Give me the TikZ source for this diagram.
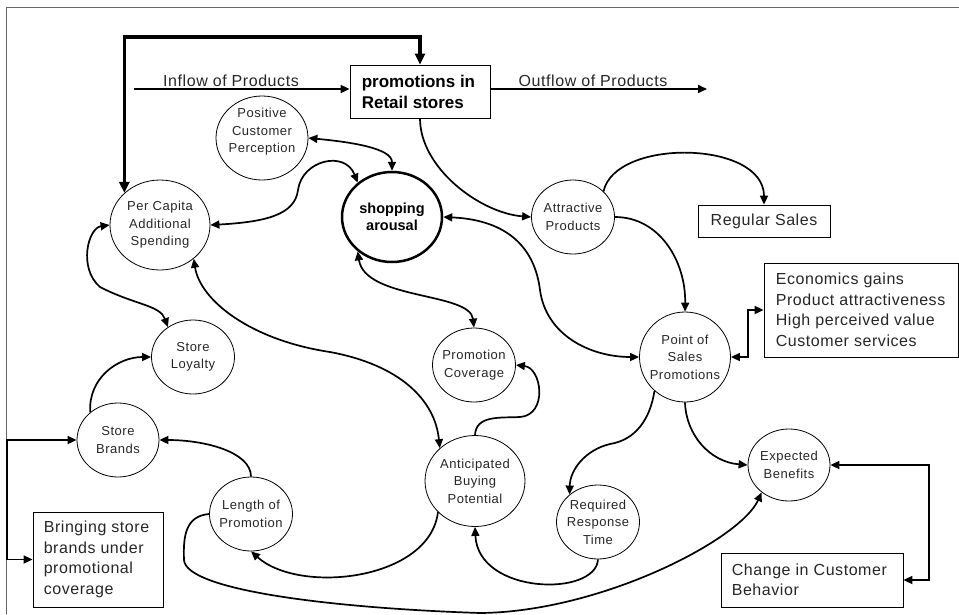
\documentclass[tikz,border=0pt]{standalone}
\usepackage{fontspec}
\setmainfont{Liberation Sans}
\newfontfamily\bubfont[LetterSpace=4]{Liberation Sans}
\newfontfamily\boxfont[LetterSpace=3.5]{Liberation Sans}
\usetikzlibrary{shapes.geometric,arrows.meta}

\begin{document}
\begin{tikzpicture}[x=1pt,y=-1pt,
  >={Triangle[length=9pt,width=8pt]},
  bub/.style={ellipse, draw, line width=0.8pt, inner sep=0pt},
  bubtxt/.style={font=\bubfont\fontsize{13}{17.5}\selectfont, align=center, text=black!85, inner sep=0pt},
  boldtxt/.style={font=\bfseries\fontsize{17}{21}\selectfont, align=left, inner sep=0pt},
  boxtxt/.style={font=\boxfont\fontsize{16}{20.5}\selectfont, align=left, text=black!85, inner sep=0pt},
  flowtxt/.style={font=\boxfont\fontsize{16}{20}\selectfont, text=black!85, inner sep=0pt},
  infobox/.style={draw, line width=0.8pt, inner sep=0pt},
  conn/.style={line width=1.7pt, ->},
  biconn/.style={line width=1.7pt, <->},
  mainloop/.style={line width=3.5pt, {Triangle[length=11pt,width=10pt]}-{Triangle[length=11pt,width=10pt]}},
]
\useasboundingbox (0,0) rectangle (959,614);

% outer frame
\draw[line width=0.8pt, black!60] (6,614) -- (6,7) -- (959,7);

% boxes
\node[infobox, minimum width=140pt, minimum height=53pt,
      label={[boldtxt, anchor=west, xshift=12pt]west:promotions in\\Retail stores}] (prom) at (420,91.5) {};
\node[infobox, minimum width=132pt, minimum height=32pt,
      label={[boxtxt]center:Regular Sales}] (rs) at (764,221) {};
\node[infobox, minimum width=194pt, minimum height=94pt,
      label={[boxtxt, anchor=west, xshift=12pt]west:Economics gains\\Product attractiveness\\High perceived value\\Customer services}] (econ) at (861,310) {};
\node[infobox, minimum width=130pt, minimum height=95pt,
      label={[boxtxt, anchor=west, xshift=11pt]west:Bringing store\\brands under\\promotional\\coverage}] (bb) at (98,559.5) {};
\node[infobox, minimum width=182pt, minimum height=54pt,
      label={[boxtxt, anchor=west, xshift=11pt]west:Change in Customer\\Behavior}] (chg) at (812,580) {};

% bubbles
\node[bub, minimum width=92pt, minimum height=84pt,
      label={[bubtxt, yshift=6pt]center:Positive\\Customer\\Perception}] (pcp) at (262,138) {};
\node[bub, minimum width=100pt, minimum height=90pt,
      label={[bubtxt]center:Per Capita\\Additional\\Spending}] (pc) at (160,225) {};
\node[bub, line width=2.5pt, minimum width=100pt, minimum height=90pt,
      label={[font=\bfseries\fontsize{14.5}{17}\selectfont, align=center, inner sep=0pt]center:shopping\\arousal}] (sa) at (392,217) {};
\node[bub, minimum width=83pt, minimum height=74pt,
      label={[bubtxt]center:Attractive\\Products}] (ap) at (573,217) {};
\node[bub, minimum width=91pt, minimum height=90pt,
      label={[bubtxt]center:Point of\\Sales\\Promotions}] (pos) at (685,357) {};
\node[bub, minimum width=83pt, minimum height=74pt,
      label={[bubtxt]center:Store\\Loyalty}] (sl) at (193,357) {};
\node[bub, minimum width=83pt, minimum height=74pt,
      label={[bubtxt]center:Promotion\\Coverage}] (pcv) at (474,365) {};
\node[bub, minimum width=82pt, minimum height=74pt,
      label={[bubtxt]center:Store\\Brands}] (sb) at (118,440) {};
\node[bub, minimum width=83pt, minimum height=74pt,
      label={[bubtxt]center:Length of\\Promotion}] (lp) at (251,514) {};
\node[bub, minimum width=100pt, minimum height=91pt,
      label={[bubtxt]center:Anticipated\\Buying\\Potential}] (abp) at (475,481) {};
\node[bub, minimum width=83pt, minimum height=74pt,
      label={[bubtxt]center:Required\\Response\\Time}] (rrt) at (598,522) {};
\node[bub, minimum width=82pt, minimum height=72pt,
      label={[bubtxt]center:Expected\\Benefits}] (eb) at (789,465) {};

% product flow
\coordinate (topY) at (0,37);
\coordinate (inS) at (134,89);
\coordinate (outE) at (707,89);
\draw[mainloop] (pc.138) -- (pc.138 |- topY) -| (prom.north);
\draw[conn] (inS) -- (prom.west |- inS);
\draw[conn] (prom.east |- outE) -- (outE);
\node[flowtxt] (inlab) at (231,81) {Inflow of Products};
\node[flowtxt] (outlab) at (593,81) {Outflow of Products};

% links
\draw[conn] (prom.south) .. controls (420,168) and (480,213) .. (ap.west);
\draw[conn] (ap.40) .. controls (615,138) and (764,140) .. (rs.north);
\draw[conn] (ap.east) .. controls (660,217) and (686,262) .. (pos.north);
\draw[biconn] (sa.east) .. controls (510,220) and (535,250) .. (540,290)
              .. controls (546,335) and (590,357) .. (pos.west);
\draw[biconn] (pcp.east) .. controls (350,142) and (392,148) .. (sa.north);
\draw[biconn] (pc.east) .. controls (265,222) and (295,215) .. (298,190)
              .. controls (302,160) and (345,150) .. (sa.135);
\draw[biconn] (pc.west) .. controls (88,228) and (78,268) .. (100,287)
              .. controls (135,305) and (160,305) .. (sl.130);
\draw[conn] (sb.135) .. controls (88,378) and (118,357) .. (sl.west);

\coordinate (lx) at (7,0);
\draw[biconn] (sb.west) -- (lx |- sb.west) -- (lx |- bb.west) -- (bb.west);

\draw[conn] (lp.north) .. controls (251,452) and (205,440) .. (sb.east);
\draw[conn] (abp.220) .. controls (430,580) and (300,595) .. (lp.south);
\draw[conn] (lp.west) .. controls (186,516) and (183,535) .. (184,560)
            .. controls (186,590) and (330,608) .. (480,613)
            .. controls (600,612) and (740,540) .. (eb.225);
\draw[biconn] (pc.315) .. controls (200,300) and (250,340) .. (330,352)
              .. controls (400,365) and (435,400) .. (abp.137);
\draw[biconn] (sa.225) .. controls (365,300) and (470,292) .. (pcv.north);
\draw[conn] (abp.north) .. controls (476,415) and (500,418) .. (520,417)
            .. controls (548,415) and (542,368) .. (pcv.east);
\draw[conn] (rrt.south) .. controls (596,597) and (478,595) .. (abp.south);
\draw[conn] (pos.228) .. controls (650,420) and (635,440) .. (610,444)
            .. controls (585,450) and (570,470) .. (rrt.136);
\draw[conn] (pos.south) .. controls (686,435) and (710,462) .. (eb.west);
\draw[biconn] (pos.east) -- ++(17,0) |- (econ.west);

\coordinate (rx) at (929,0);
\draw[biconn] (eb.east) -- (rx |- eb.east) -- (rx |- chg.east) -- (chg.east);
\end{tikzpicture}
\end{document}
